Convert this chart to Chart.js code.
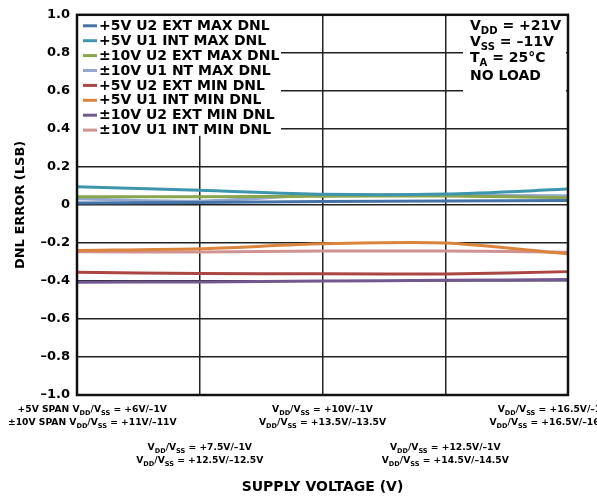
<!DOCTYPE html>
<html>
<head>
<meta charset="utf-8">
<script src="https://cdn.jsdelivr.net/npm/chart.js@4.4.0/dist/chart.umd.min.js"></script>
<style>
  html, body { margin: 0; padding: 0; background: #fff; }
</style>
</head>
<body>
<canvas id="myChart" width="597" height="497"></canvas>
<script>
// supply settings per point: +5V span row and ±10V span row ({..} = subscript)
const span5Labels = ['+6V/–1V', '+7.5V/–1V', '+10V/–1V', '+12.5V/–1V', '+16.5V/–1V'];
const span10Labels = ['+11V/–11V', '+12.5V/–12.5V', '+13.5V/–13.5V', '+14.5V/–14.5V', '+16.5V/–16.5V'];
const categories = span5Labels.map((s, i) => s + ' | ' + span10Labels[i]);

const seriesNames = [
    '+5V U2 EXT MAX DNL',
    '+5V U1 INT MAX DNL',
    '±10V U2 EXT MAX DNL',
    '±10V U1 NT MAX DNL',
    '+5V U2 EXT MIN DNL',
    '+5V U1 INT MIN DNL',
    '±10V U2 EXT MIN DNL',
    '±10V U1 INT MIN DNL'
];
const seriesColors = ['#4572a7', '#3d96ae', '#89a54e', '#93a9cf', '#aa4643', '#db843d', '#71588f', '#d19392'];

const u2ExtMax5 = [0.010, 0.013, 0.018, 0.020, 0.023];
const u1IntMax5 = [0.095, 0.077, 0.056, 0.057, 0.083];
const u2ExtMax10 = [0.043, 0.043, 0.045, 0.047, 0.037];
const u1IntMax10 = [0.032, 0.020, 0.052, 0.050, 0.048];
const u2ExtMin5 = [-0.354, -0.361, -0.362, -0.364, -0.351];
const u1IntMin5 = [-0.240, -0.231, -0.205, -0.201, -0.258];
const u2ExtMin10 = [-0.407, -0.405, -0.400, -0.397, -0.393];
const u1IntMin10 = [-0.246, -0.248, -0.243, -0.243, -0.249];
const seriesValues = [u2ExtMax5, u1IntMax5, u2ExtMax10, u1IntMax10, u2ExtMin5, u1IntMin5, u2ExtMin10, u1IntMin10];

const conditions = ['V{DD} = +21V', 'V{SS} = –11V', 'T{A} = 25°C', 'NO LOAD'];

const FONT = '"DejaVu Sans", Arial, sans-serif';

// draws text with {..} parts as subscripts, returns width
function drawRich(ctx, str, x, y, size, align, measureOnly) {
    const parts = str.split(/(\{[^}]*\})/).filter(s => s.length);
    const base = 'bold ' + size + 'px ' + FONT;
    const sub = 'bold ' + (size * 0.72).toFixed(1) + 'px ' + FONT;
    let w = 0;
    parts.forEach(p => {
        const isSub = p[0] === '{';
        ctx.font = isSub ? sub : base;
        w += ctx.measureText(isSub ? p.slice(1, -1) : p).width;
    });
    if (measureOnly) return w;
    let cx = align === 'center' ? x - w / 2 : x;
    ctx.textBaseline = 'middle';
    ctx.textAlign = 'left';
    parts.forEach(p => {
        const isSub = p[0] === '{';
        const t = isSub ? p.slice(1, -1) : p;
        ctx.font = isSub ? sub : base;
        ctx.fillText(t, cx, isSub ? y + size * 0.33 : y);
        cx += ctx.measureText(t).width;
    });
    return w;
}

const decorations = {
    id: 'decorations',
    beforeDatasetsDraw(chart) {
        const ctx = chart.ctx;
        const a = chart.chartArea;
        ctx.save();
        // legend box and condition box hide the grid
        ctx.fillStyle = '#fff';
        ctx.fillRect(a.left + 1, a.top + 1, 203, 120);
        ctx.fillRect(a.right - 105, a.top + 1, 103, 83);

        // legend
        chart.data.datasets.forEach((ds, i) => {
            const y = a.top + 11 + i * 14.9;
            ctx.strokeStyle = ds.borderColor;
            ctx.lineWidth = 3;
            ctx.beginPath();
            ctx.moveTo(a.left + 6, y);
            ctx.lineTo(a.left + 20, y);
            ctx.stroke();
            ctx.fillStyle = '#000';
            ctx.font = 'bold 14px ' + FONT;
            ctx.textBaseline = 'middle';
            ctx.textAlign = 'left';
            ctx.fillText(ds.label, a.left + 22, y + 0.5);
        });

        // test conditions
        ctx.fillStyle = '#000';
        const condY = [11.5, 27.5, 44, 61.5];
        conditions.forEach((c, i) => {
            drawRich(ctx, c, a.right - 98, a.top + condY[i], 14, 'left');
        });
        ctx.restore();
    },
    afterDatasetsDraw(chart) {
        const ctx = chart.ctx;
        const a = chart.chartArea;
        ctx.save();
        ctx.strokeStyle = '#111';
        ctx.lineWidth = 2.5;
        ctx.strokeRect(a.left, a.top, a.right - a.left, a.bottom - a.top);

        // x category labels in two staggered rows
        const xs = chart.scales.x;
        ctx.fillStyle = '#000';
        categories.forEach((c, i) => {
            const lines = i === 0
                ? ['+5V SPAN V{DD}/V{SS} = ' + span5Labels[i], '±10V SPAN V{DD}/V{SS} = ' + span10Labels[i]]
                : ['V{DD}/V{SS} = ' + span5Labels[i], 'V{DD}/V{SS} = ' + span10Labels[i]];
            const size = 9.2;
            const wMax = Math.max(...lines.map(l => drawRich(ctx, l, 0, 0, size, 'left', true)));
            let cx = xs.getPixelForValue(i);
            if (cx - wMax / 2 < 8) cx = 8 + wMax / 2;
            if (i === categories.length - 1) cx -= 15;
            const y0 = a.bottom + (i % 2 === 0 ? 15 : 53);
            lines.forEach((l, k) => drawRich(ctx, l, cx, y0 + k * 13, size, 'center'));
        });
        ctx.restore();
    }
};

const ctx = document.getElementById('myChart');

const myChart = new Chart(ctx, {
    type: 'line',
    data: {
        labels: categories,
        datasets: seriesNames.map((name, i) => ({
            label: name,
            data: seriesValues[i],
            borderColor: seriesColors[i],
            backgroundColor: seriesColors[i],
            borderWidth: 3,
            pointRadius: 0,
            tension: 0.25,
            fill: false
        }))
    },
    options: {
        responsive: false,
        animation: false,
        layout: { padding: { top: 12, right: 29, left: 0, bottom: 0 } },
        plugins: {
            legend: { display: false },
            tooltip: { enabled: false }
        },
        scales: {
            x: {
                offset: false,
                ticks: { display: false },
                grid: { color: '#222', lineWidth: 1.5, drawTicks: false },
                border: { display: false },
                title: {
                    display: true,
                    text: 'SUPPLY VOLTAGE (V)',
                    color: '#000',
                    font: { family: FONT, size: 14, weight: 'bold' },
                    padding: { bottom: 1 }
                },
                afterFit(scale) { scale.height = 102; }
            },
            y: {
                min: -1,
                max: 1,
                ticks: {
                    stepSize: 0.2,
                    color: '#000',
                    padding: 7,
                    font: { family: FONT, size: 13, weight: 'bold' },
                    callback(v) {
                        if (Math.abs(v) < 1e-9) return '0';
                        return v < 0 ? '–' + Math.abs(v).toFixed(1) : v.toFixed(1);
                    }
                },
                grid: { color: '#222', lineWidth: 1.5, drawTicks: false },
                border: { display: false },
                title: {
                    display: true,
                    text: 'DNL ERROR (LSB)',
                    color: '#000',
                    font: { family: FONT, size: 13, weight: 'bold' },
                    padding: { top: 13 }
                },
                afterFit(scale) { scale.width = 77; }
            }
        }
    },
    plugins: [decorations]
});
</script>
</body>
</html>
